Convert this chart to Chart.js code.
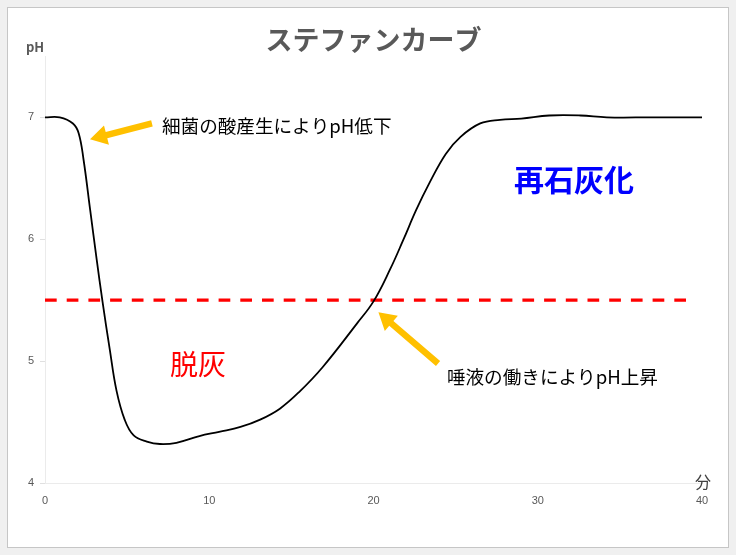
<!DOCTYPE html>
<html lang="ja">
<head>
<meta charset="utf-8">
<title>ステファンカーブ</title>
<script src="https://cdn.jsdelivr.net/npm/chart.js@4.4.1/dist/chart.umd.min.js"></script>
<style>
  html, body { margin: 0; padding: 0; background: #f0f0f0; }
  #wrap { width: 736px; height: 555px; }
</style>
</head>
<body>
<div id="wrap"><canvas id="curve" width="736" height="555"></canvas></div>
<script>
// ── Daten ───────────────────────────────────────────────────
const minutes  = [0, 0.9, 1.7, 2.05, 2.35, 2.75, 3.15, 3.5, 3.95, 4.35, 4.85, 5.4, 6.2, 7.0, 8.0, 9.4, 10.6, 11.9, 13.1, 14.3, 15.5, 16.9, 19.0, 20.0, 21.0, 21.8, 22.6, 23.4, 24.4, 25.3, 26.5, 27.7, 29.0, 30.7, 32.6, 34.2, 37.0, 40.0];
const phValues = [7.0, 7.0, 6.95, 6.87, 6.65, 6.24, 5.83, 5.49, 5.09, 4.76, 4.52, 4.39, 4.34, 4.32, 4.33, 4.385, 4.42, 4.46, 4.52, 4.61, 4.75, 4.95, 5.31, 5.49, 5.75, 5.99, 6.24, 6.46, 6.7, 6.84, 6.95, 6.98, 6.99, 7.015, 7.015, 7.0, 7.0, 7.0];

const criticalX  = [0, 39.1];   // Grenzlinie von … bis
const criticalPh = 5.5;

const xTicks = [0, 10, 20, 30, 40];
const yTicks = [4, 5, 6, 7];

const titleText = 'ステファンカーブ';
const yUnit = 'pH';
const xUnit = '分';

// Beschriftungen im Diagramm (Datenkoordinaten)
const notes = [
  { text: '細菌の酸産生によりpH低下', x: 7.12, y: 6.93, color: '#000000', font: '18.6px "Noto Sans CJK JP"', align: 'left' },
  { text: '唾液の働きによりpH上昇',   x: 24.47, y: 4.87, color: '#000000', font: '18.6px "Noto Sans CJK JP"', align: 'left' },
  { text: '脱灰',     x: 9.32, y: 4.97, color: '#ff0000', font: '28px "Noto Sans CJK JP"', align: 'center' },
  { text: '再石灰化', x: 32.2, y: 6.49, color: '#0000ff', font: 'bold 30px "Noto Sans CJK JP"', align: 'center' }
];

// Pfeile: von (Schwanz) → nach (Spitze)
const arrows = [
  { from: [6.51, 6.95], to: [2.74, 6.82] },
  { from: [23.93, 4.98], to: [20.3, 5.40] }
];

// ── Hilfsfunktionen ─────────────────────────────────────────

function drawArrow(ctx, x1, y1, x2, y2) {
  const ang = Math.atan2(y2 - y1, x2 - x1);
  const headLen = 17, headHalf = 10, shaft = 3.2;
  const bx = x2 - headLen * Math.cos(ang);
  const by = y2 - headLen * Math.sin(ang);
  const nx = -Math.sin(ang), ny = Math.cos(ang);
  ctx.save();
  ctx.fillStyle = '#ffc000';
  ctx.beginPath();
  ctx.moveTo(x1 + nx * shaft, y1 + ny * shaft);
  ctx.lineTo(bx + nx * shaft, by + ny * shaft);
  ctx.lineTo(bx + nx * headHalf, by + ny * headHalf);
  ctx.lineTo(x2, y2);
  ctx.lineTo(bx - nx * headHalf, by - ny * headHalf);
  ctx.lineTo(bx - nx * shaft, by - ny * shaft);
  ctx.lineTo(x1 - nx * shaft, y1 - ny * shaft);
  ctx.closePath();
  ctx.fill();
  ctx.restore();
}

// Hintergrund mit Rahmen
const panelPlugin = {
  id: 'panel',
  beforeDraw(chart) {
    const ctx = chart.ctx;
    ctx.save();
    ctx.fillStyle = '#f0f0f0';
    ctx.fillRect(0, 0, chart.width, chart.height);
    ctx.fillStyle = '#ffffff';
    ctx.fillRect(7, 7, 722, 541);
    ctx.strokeStyle = '#c6c6c6';
    ctx.lineWidth = 1;
    ctx.strokeRect(7.5, 7.5, 721, 540);
    ctx.restore();
  }
};

// Pfeile, Texte, Achseneinheiten
const notesPlugin = {
  id: 'notes',
  afterDatasetsDraw(chart) {
    const ctx = chart.ctx;
    const xs = chart.scales.x, ys = chart.scales.y;

    arrows.forEach(a => {
      drawArrow(ctx,
        xs.getPixelForValue(a.from[0]), ys.getPixelForValue(a.from[1]),
        xs.getPixelForValue(a.to[0]),   ys.getPixelForValue(a.to[1]));
    });

    ctx.save();
    ctx.textBaseline = 'middle';
    notes.forEach(n => {
      ctx.font = n.font;
      ctx.fillStyle = n.color;
      ctx.textAlign = n.align;
      ctx.fillText(n.text, xs.getPixelForValue(n.x), ys.getPixelForValue(n.y));
    });

    // Einheiten
    ctx.font = 'bold 13px "Noto Sans CJK JP"';
    ctx.fillStyle = '#595959';
    ctx.textAlign = 'center';
    ctx.fillText(yUnit, xs.left - 10, chart.chartArea.top - 9);

    ctx.font = '16px "Noto Sans CJK JP"';
    ctx.fillStyle = '#404040';
    ctx.fillText(xUnit, xs.right + 1, ys.bottom - 1);
    ctx.restore();
  }
};

// ── Chart ───────────────────────────────────────────────────

new Chart(document.getElementById('curve'), {
  type: 'scatter',
  data: {
    datasets: [
      {
        data: minutes.map((m, i) => ({ x: m, y: phValues[i] })),
        showLine: true,
        borderColor: '#000000',
        borderWidth: 1.8,
        pointRadius: 0,
        tension: 0.4
      },
      {
        data: criticalX.map(m => ({ x: m, y: criticalPh })),
        showLine: true,
        borderColor: '#ff0000',
        borderWidth: 3.3,
        borderDash: [11.7, 10],
        pointRadius: 0
      }
    ]
  },
  options: {
    responsive: false,
    animation: false,
    layout: { padding: { left: 0, right: 34, top: 0, bottom: 42 } },
    plugins: {
      legend: { display: false },
      tooltip: { enabled: false },
      title: {
        display: true,
        fullSize: false,   // über der Plotfläche zentrieren
        text: titleText,
        color: '#595959',
        font: { family: '"Noto Sans CJK JP"', size: 27, weight: 'bold' },
        padding: { top: 24, bottom: 0 }
      }
    },
    scales: {
      x: {
        type: 'linear',
        min: 0,
        max: 40,
        afterBuildTicks: s => { s.ticks = xTicks.map(v => ({ value: v })); },
        afterFit: s => { s.height = 30; },
        grid: { display: false, drawTicks: false },
        border: { color: '#ebebeb', width: 1 },
        ticks: {
          color: '#595959',
          padding: 11,
          font: { family: '"Liberation Sans"', size: 11 }
        }
      },
      y: {
        type: 'linear',
        min: 4,
        max: 7.5,
        afterBuildTicks: s => { s.ticks = yTicks.map(v => ({ value: v })); },
        afterFit: s => { s.width = 45; },
        grid: { drawOnChartArea: false, drawTicks: true, tickLength: 5, color: '#e0e0e0' },
        border: { color: '#ebebeb', width: 1 },
        ticks: {
          color: '#595959',
          padding: 6,
          font: { family: '"Liberation Sans"', size: 11 }
        }
      }
    }
  },
  plugins: [panelPlugin, notesPlugin]
});
</script>
</body>
</html>
